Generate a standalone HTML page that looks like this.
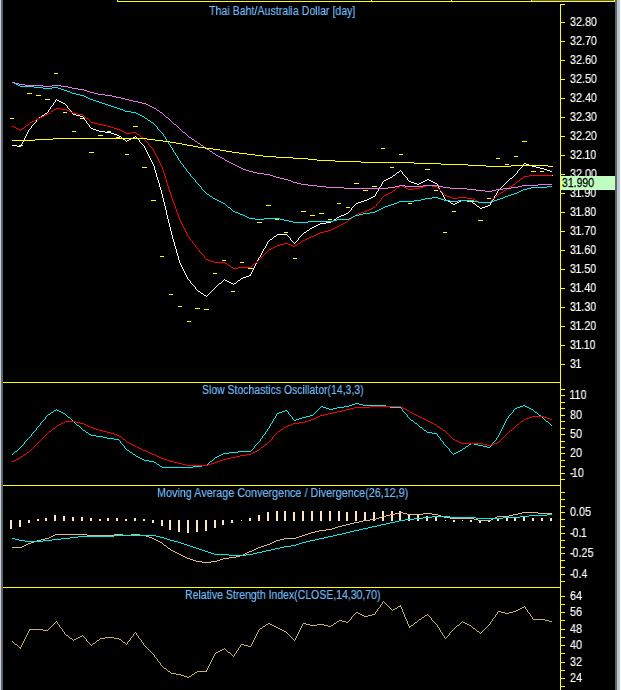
<!DOCTYPE html><html><head><meta charset="utf-8"><title>Chart</title><style>
html,body{margin:0;padding:0;background:#000;}
body{width:621px;height:690px;position:relative;overflow:hidden;font-family:"Liberation Sans",sans-serif;}
.lab{-webkit-text-stroke:0.15px #fff;will-change:transform;position:absolute;left:569.5px;color:#fff;font-size:12px;line-height:14px;height:14px;white-space:nowrap;transform:scaleX(0.9);transform-origin:0 0;}
.lab i{font-style:normal;margin-left:-0.8px}
.lab b{font-weight:normal;margin-right:-1.2px}
.ttl{-webkit-text-stroke:0.2px #6eb9ff;will-change:transform;position:absolute;color:#6eb9ff;font-size:12px;line-height:14px;height:14px;white-space:nowrap;transform:scaleX(0.885);transform-origin:0 0;}
.cur{position:absolute;left:561px;top:176px;width:54px;height:14px;background:#c0ffc0;color:#000;font-size:12px;line-height:14px;white-space:nowrap;}
.cur span{display:inline-block;will-change:transform;-webkit-text-stroke:0.3px #000;transform:scaleX(0.875);transform-origin:0 0;}

</style></head><body>
<svg width="621" height="690" viewBox="0 0 621 690" style="position:absolute;left:0;top:0" shape-rendering="crispEdges">
<rect x="0" y="0" width="1" height="690" fill="#c6d6e8"/>
<rect x="1" y="0" width="2" height="690" fill="#636363"/>
<rect x="615" y="0" width="2" height="690" fill="#636363"/>
<rect x="617" y="0" width="3" height="690" fill="#b9c9dc"/>
<rect x="620" y="0" width="1" height="690" fill="#ffffff"/>
<rect x="532" y="0" width="82" height="1" fill="#56566e"/>
<rect x="117" y="1" width="498" height="1" fill="#ffff00"/>
<rect x="117" y="0" width="1" height="2" fill="#ffff00"/>
<rect x="371" y="0" width="1" height="2" fill="#ffff00"/>
<rect x="451" y="0" width="1" height="2" fill="#ffff00"/>
<rect x="531" y="0" width="1" height="2" fill="#ffff00"/>
<rect x="614" y="0" width="1" height="2" fill="#ffff00"/>
<rect x="560" y="4" width="1" height="686" fill="#ffff00"/>
<rect x="560" y="4" width="5" height="1" fill="#ffff00"/>
<rect x="3" y="382" width="558" height="1" fill="#ffff00"/>
<rect x="3" y="485" width="558" height="1" fill="#ffff00"/>
<rect x="3" y="587" width="558" height="1" fill="#ffff00"/>
<rect x="561" y="22" width="4" height="1" fill="#ffff00"/>
<rect x="561" y="41" width="4" height="1" fill="#ffff00"/>
<rect x="561" y="60" width="4" height="1" fill="#ffff00"/>
<rect x="561" y="79" width="4" height="1" fill="#ffff00"/>
<rect x="561" y="98" width="4" height="1" fill="#ffff00"/>
<rect x="561" y="117" width="4" height="1" fill="#ffff00"/>
<rect x="561" y="136" width="4" height="1" fill="#ffff00"/>
<rect x="561" y="155" width="4" height="1" fill="#ffff00"/>
<rect x="561" y="174" width="4" height="1" fill="#ffff00"/>
<rect x="561" y="193" width="4" height="1" fill="#ffff00"/>
<rect x="561" y="212" width="4" height="1" fill="#ffff00"/>
<rect x="561" y="231" width="4" height="1" fill="#ffff00"/>
<rect x="561" y="250" width="4" height="1" fill="#ffff00"/>
<rect x="561" y="269" width="4" height="1" fill="#ffff00"/>
<rect x="561" y="288" width="4" height="1" fill="#ffff00"/>
<rect x="561" y="307" width="4" height="1" fill="#ffff00"/>
<rect x="561" y="326" width="4" height="1" fill="#ffff00"/>
<rect x="561" y="345" width="4" height="1" fill="#ffff00"/>
<rect x="561" y="364" width="4" height="1" fill="#ffff00"/>
<rect x="561" y="389" width="4" height="1" fill="#ffff00"/>
<rect x="561" y="395" width="4" height="1" fill="#ffff00"/>
<rect x="561" y="402" width="4" height="1" fill="#ffff00"/>
<rect x="561" y="408" width="4" height="1" fill="#ffff00"/>
<rect x="561" y="415" width="4" height="1" fill="#ffff00"/>
<rect x="561" y="421" width="4" height="1" fill="#ffff00"/>
<rect x="561" y="428" width="4" height="1" fill="#ffff00"/>
<rect x="561" y="434" width="4" height="1" fill="#ffff00"/>
<rect x="561" y="441" width="4" height="1" fill="#ffff00"/>
<rect x="561" y="447" width="4" height="1" fill="#ffff00"/>
<rect x="561" y="453" width="4" height="1" fill="#ffff00"/>
<rect x="561" y="460" width="4" height="1" fill="#ffff00"/>
<rect x="561" y="466" width="4" height="1" fill="#ffff00"/>
<rect x="561" y="473" width="4" height="1" fill="#ffff00"/>
<rect x="561" y="479" width="4" height="1" fill="#ffff00"/>
<rect x="561" y="492" width="4" height="1" fill="#ffff00"/>
<rect x="561" y="499" width="4" height="1" fill="#ffff00"/>
<rect x="561" y="506" width="4" height="1" fill="#ffff00"/>
<rect x="561" y="512" width="4" height="1" fill="#ffff00"/>
<rect x="561" y="519" width="4" height="1" fill="#ffff00"/>
<rect x="561" y="526" width="4" height="1" fill="#ffff00"/>
<rect x="561" y="533" width="4" height="1" fill="#ffff00"/>
<rect x="561" y="540" width="4" height="1" fill="#ffff00"/>
<rect x="561" y="547" width="4" height="1" fill="#ffff00"/>
<rect x="561" y="553" width="4" height="1" fill="#ffff00"/>
<rect x="561" y="560" width="4" height="1" fill="#ffff00"/>
<rect x="561" y="567" width="4" height="1" fill="#ffff00"/>
<rect x="561" y="574" width="4" height="1" fill="#ffff00"/>
<rect x="561" y="581" width="4" height="1" fill="#ffff00"/>
<rect x="561" y="596" width="4" height="1" fill="#ffff00"/>
<rect x="561" y="604" width="4" height="1" fill="#ffff00"/>
<rect x="561" y="612" width="4" height="1" fill="#ffff00"/>
<rect x="561" y="620" width="4" height="1" fill="#ffff00"/>
<rect x="561" y="629" width="4" height="1" fill="#ffff00"/>
<rect x="561" y="637" width="4" height="1" fill="#ffff00"/>
<rect x="561" y="645" width="4" height="1" fill="#ffff00"/>
<rect x="561" y="653" width="4" height="1" fill="#ffff00"/>
<rect x="561" y="662" width="4" height="1" fill="#ffff00"/>
<rect x="561" y="670" width="4" height="1" fill="#ffff00"/>
<rect x="561" y="678" width="4" height="1" fill="#ffff00"/>
<rect x="561" y="686" width="4" height="1" fill="#ffff00"/>
<rect x="10" y="118" width="4" height="1" fill="#ffff00"/>
<rect x="19" y="145" width="4" height="1" fill="#ffff00"/>
<rect x="27" y="93" width="5" height="1" fill="#ffff00"/>
<rect x="36" y="95" width="5" height="1" fill="#ffff00"/>
<rect x="45" y="99" width="5" height="1" fill="#ffff00"/>
<rect x="54" y="73" width="4" height="1" fill="#ffff00"/>
<rect x="63" y="112" width="4" height="1" fill="#ffff00"/>
<rect x="72" y="131" width="4" height="1" fill="#ffff00"/>
<rect x="80" y="118" width="5" height="1" fill="#ffff00"/>
<rect x="89" y="152" width="5" height="1" fill="#ffff00"/>
<rect x="98" y="135" width="5" height="1" fill="#ffff00"/>
<rect x="107" y="131" width="4" height="1" fill="#ffff00"/>
<rect x="116" y="137" width="4" height="1" fill="#ffff00"/>
<rect x="125" y="154" width="4" height="1" fill="#ffff00"/>
<rect x="133" y="126" width="5" height="1" fill="#ffff00"/>
<rect x="142" y="167" width="5" height="1" fill="#ffff00"/>
<rect x="151" y="200" width="5" height="1" fill="#ffff00"/>
<rect x="160" y="256" width="4" height="1" fill="#ffff00"/>
<rect x="169" y="294" width="4" height="1" fill="#ffff00"/>
<rect x="178" y="306" width="4" height="1" fill="#ffff00"/>
<rect x="187" y="321" width="4" height="1" fill="#ffff00"/>
<rect x="195" y="308" width="5" height="1" fill="#ffff00"/>
<rect x="204" y="309" width="5" height="1" fill="#ffff00"/>
<rect x="213" y="273" width="4" height="1" fill="#ffff00"/>
<rect x="222" y="260" width="4" height="1" fill="#ffff00"/>
<rect x="231" y="291" width="4" height="1" fill="#ffff00"/>
<rect x="240" y="262" width="4" height="1" fill="#ffff00"/>
<rect x="248" y="268" width="5" height="1" fill="#ffff00"/>
<rect x="257" y="222" width="5" height="1" fill="#ffff00"/>
<rect x="266" y="205" width="5" height="1" fill="#ffff00"/>
<rect x="275" y="219" width="4" height="1" fill="#ffff00"/>
<rect x="284" y="232" width="4" height="1" fill="#ffff00"/>
<rect x="293" y="258" width="4" height="1" fill="#ffff00"/>
<rect x="301" y="211" width="5" height="1" fill="#ffff00"/>
<rect x="310" y="215" width="5" height="1" fill="#ffff00"/>
<rect x="319" y="213" width="5" height="1" fill="#ffff00"/>
<rect x="328" y="219" width="4" height="1" fill="#ffff00"/>
<rect x="337" y="203" width="4" height="1" fill="#ffff00"/>
<rect x="346" y="207" width="4" height="1" fill="#ffff00"/>
<rect x="354" y="183" width="5" height="1" fill="#ffff00"/>
<rect x="363" y="190" width="5" height="1" fill="#ffff00"/>
<rect x="372" y="186" width="5" height="1" fill="#ffff00"/>
<rect x="381" y="148" width="4" height="1" fill="#ffff00"/>
<rect x="390" y="167" width="4" height="1" fill="#ffff00"/>
<rect x="399" y="154" width="4" height="1" fill="#ffff00"/>
<rect x="408" y="203" width="4" height="1" fill="#ffff00"/>
<rect x="416" y="186" width="5" height="1" fill="#ffff00"/>
<rect x="425" y="169" width="5" height="1" fill="#ffff00"/>
<rect x="434" y="190" width="4" height="1" fill="#ffff00"/>
<rect x="443" y="232" width="4" height="1" fill="#ffff00"/>
<rect x="452" y="211" width="4" height="1" fill="#ffff00"/>
<rect x="461" y="200" width="4" height="1" fill="#ffff00"/>
<rect x="469" y="201" width="5" height="1" fill="#ffff00"/>
<rect x="478" y="220" width="5" height="1" fill="#ffff00"/>
<rect x="487" y="198" width="4" height="1" fill="#ffff00"/>
<rect x="496" y="158" width="4" height="1" fill="#ffff00"/>
<rect x="505" y="164" width="4" height="1" fill="#ffff00"/>
<rect x="514" y="156" width="4" height="1" fill="#ffff00"/>
<rect x="522" y="141" width="5" height="1" fill="#ffff00"/>
<rect x="531" y="171" width="5" height="1" fill="#ffff00"/>
<rect x="540" y="171" width="4" height="1" fill="#ffff00"/>
<rect x="549" y="175" width="4" height="1" fill="#ffff00"/>
<path fill="#ffffff" d="M56 99h1v1h-1zM55 100h1v1h-1zM57 100h2v1h-2zM55 101h1v1h-1zM59 101h2v1h-2zM54 102h1v1h-1zM61 102h2v1h-2zM53 103h1v1h-1zM63 103h2v1h-2zM53 104h1v1h-1zM65 104h1v1h-1zM52 105h1v1h-1zM66 105h1v1h-1zM51 106h1v1h-1zM67 106h1v1h-1zM50 107h1v1h-1zM67 107h1v1h-1zM50 108h1v1h-1zM68 108h1v1h-1zM49 109h1v1h-1zM69 109h1v1h-1zM48 110h1v1h-1zM70 110h1v1h-1zM48 111h1v1h-1zM71 111h1v1h-1zM47 112h1v1h-1zM71 112h1v1h-1zM45 113h2v1h-2zM72 113h1v1h-1zM44 114h1v1h-1zM73 114h3v1h-3zM42 115h2v1h-2zM76 115h4v1h-4zM41 116h1v1h-1zM80 116h3v1h-3zM39 117h2v1h-2zM83 117h1v1h-1zM38 118h1v1h-1zM83 118h1v1h-1zM37 119h1v1h-1zM84 119h1v1h-1zM36 120h1v1h-1zM85 120h1v1h-1zM36 121h1v1h-1zM86 121h1v1h-1zM35 122h1v1h-1zM86 122h1v1h-1zM34 123h1v1h-1zM87 123h1v1h-1zM33 124h1v1h-1zM88 124h1v1h-1zM32 125h1v1h-1zM89 125h1v1h-1zM31 126h1v1h-1zM89 126h1v1h-1zM31 127h1v1h-1zM90 127h1v1h-1zM30 128h1v1h-1zM91 128h2v1h-2zM29 129h1v1h-1zM93 129h3v1h-3zM28 130h1v1h-1zM96 130h3v1h-3zM28 131h1v1h-1zM99 131h6v1h-6zM27 132h1v1h-1zM105 132h6v1h-6zM27 133h1v1h-1zM111 133h3v1h-3zM26 134h1v1h-1zM114 134h3v1h-3zM26 135h1v1h-1zM117 135h2v1h-2zM25 136h1v1h-1zM119 136h2v1h-2zM135 136h1v1h-1zM25 137h1v1h-1zM121 137h1v1h-1zM133 137h2v1h-2zM136 137h1v1h-1zM24 138h1v1h-1zM122 138h1v1h-1zM131 138h2v1h-2zM137 138h1v1h-1zM24 139h1v1h-1zM123 139h2v1h-2zM129 139h2v1h-2zM138 139h1v1h-1zM23 140h1v1h-1zM125 140h1v1h-1zM127 140h2v1h-2zM139 140h1v1h-1zM23 141h1v1h-1zM126 141h1v1h-1zM139 141h1v1h-1zM22 142h1v1h-1zM140 142h1v1h-1zM22 143h1v1h-1zM141 143h1v1h-1zM21 144h1v1h-1zM142 144h1v1h-1zM12 145h5v1h-5zM21 145h1v1h-1zM143 145h1v1h-1zM17 146h4v1h-4zM144 146h1v1h-1zM144 147h1v1h-1zM145 148h1v1h-1zM145 149h1v1h-1zM146 150h1v1h-1zM146 151h1v1h-1zM147 152h1v1h-1zM147 153h1v1h-1zM148 154h1v1h-1zM148 155h1v1h-1zM149 156h1v1h-1zM149 157h1v1h-1zM150 158h1v1h-1zM150 159h1v1h-1zM151 160h1v1h-1zM151 161h1v1h-1zM152 162h1v1h-1zM152 163h1v1h-1zM524 163h2v1h-2zM153 164h1v1h-1zM523 164h1v1h-1zM526 164h3v1h-3zM153 165h1v1h-1zM522 165h1v1h-1zM529 165h3v1h-3zM154 166h1v1h-1zM522 166h1v1h-1zM532 166h4v1h-4zM154 167h1v1h-1zM521 167h1v1h-1zM536 167h4v1h-4zM154 168h1v1h-1zM520 168h1v1h-1zM540 168h4v1h-4zM154 169h1v1h-1zM519 169h1v1h-1zM544 169h3v1h-3zM155 170h1v1h-1zM400 170h1v1h-1zM518 170h1v1h-1zM547 170h3v1h-3zM155 171h1v1h-1zM399 171h1v1h-1zM401 171h1v1h-1zM517 171h1v1h-1zM550 171h2v1h-2zM155 172h1v1h-1zM397 172h2v1h-2zM402 172h1v1h-1zM517 172h1v1h-1zM156 173h1v1h-1zM396 173h1v1h-1zM402 173h1v1h-1zM516 173h1v1h-1zM156 174h1v1h-1zM395 174h1v1h-1zM403 174h1v1h-1zM515 174h1v1h-1zM156 175h1v1h-1zM393 175h2v1h-2zM404 175h1v1h-1zM514 175h1v1h-1zM156 176h1v1h-1zM392 176h1v1h-1zM405 176h1v1h-1zM513 176h1v1h-1zM157 177h1v1h-1zM390 177h2v1h-2zM406 177h1v1h-1zM512 177h1v1h-1zM157 178h1v1h-1zM388 178h2v1h-2zM407 178h1v1h-1zM510 178h2v1h-2zM157 179h1v1h-1zM386 179h2v1h-2zM407 179h1v1h-1zM427 179h2v1h-2zM509 179h1v1h-1zM158 180h1v1h-1zM384 180h2v1h-2zM408 180h1v1h-1zM425 180h2v1h-2zM429 180h2v1h-2zM508 180h1v1h-1zM158 181h1v1h-1zM383 181h1v1h-1zM409 181h2v1h-2zM423 181h2v1h-2zM431 181h2v1h-2zM507 181h1v1h-1zM158 182h1v1h-1zM382 182h1v1h-1zM411 182h3v1h-3zM421 182h2v1h-2zM433 182h2v1h-2zM506 182h1v1h-1zM159 183h1v1h-1zM382 183h1v1h-1zM414 183h3v1h-3zM419 183h2v1h-2zM435 183h2v1h-2zM505 183h1v1h-1zM159 184h1v1h-1zM381 184h1v1h-1zM417 184h2v1h-2zM437 184h1v1h-1zM504 184h1v1h-1zM159 185h1v1h-1zM381 185h1v1h-1zM437 185h1v1h-1zM503 185h1v1h-1zM159 186h1v1h-1zM380 186h1v1h-1zM438 186h1v1h-1zM502 186h1v1h-1zM160 187h1v1h-1zM379 187h1v1h-1zM438 187h1v1h-1zM501 187h1v1h-1zM160 188h1v1h-1zM379 188h1v1h-1zM439 188h1v1h-1zM500 188h1v1h-1zM160 189h1v1h-1zM378 189h1v1h-1zM439 189h1v1h-1zM499 189h1v1h-1zM161 190h1v1h-1zM378 190h1v1h-1zM440 190h1v1h-1zM498 190h1v1h-1zM161 191h1v1h-1zM377 191h1v1h-1zM440 191h1v1h-1zM497 191h1v1h-1zM161 192h1v1h-1zM376 192h1v1h-1zM441 192h1v1h-1zM497 192h1v1h-1zM161 193h1v1h-1zM376 193h1v1h-1zM442 193h1v1h-1zM496 193h1v1h-1zM162 194h1v1h-1zM375 194h1v1h-1zM442 194h1v1h-1zM496 194h1v1h-1zM162 195h1v1h-1zM375 195h1v1h-1zM443 195h1v1h-1zM495 195h1v1h-1zM162 196h1v1h-1zM373 196h2v1h-2zM443 196h1v1h-1zM494 196h1v1h-1zM162 197h1v1h-1zM371 197h2v1h-2zM444 197h1v1h-1zM494 197h1v1h-1zM163 198h1v1h-1zM369 198h2v1h-2zM444 198h1v1h-1zM493 198h1v1h-1zM163 199h1v1h-1zM367 199h2v1h-2zM445 199h1v1h-1zM493 199h1v1h-1zM163 200h1v1h-1zM364 200h3v1h-3zM446 200h2v1h-2zM461 200h6v1h-6zM492 200h1v1h-1zM163 201h1v1h-1zM361 201h3v1h-3zM448 201h2v1h-2zM459 201h2v1h-2zM467 201h5v1h-5zM491 201h1v1h-1zM164 202h1v1h-1zM358 202h3v1h-3zM450 202h1v1h-1zM457 202h2v1h-2zM472 202h1v1h-1zM491 202h1v1h-1zM164 203h1v1h-1zM356 203h2v1h-2zM451 203h2v1h-2zM455 203h2v1h-2zM473 203h2v1h-2zM490 203h1v1h-1zM164 204h1v1h-1zM355 204h1v1h-1zM453 204h2v1h-2zM475 204h1v1h-1zM490 204h1v1h-1zM164 205h1v1h-1zM354 205h1v1h-1zM476 205h1v1h-1zM488 205h2v1h-2zM165 206h1v1h-1zM353 206h1v1h-1zM477 206h2v1h-2zM485 206h3v1h-3zM165 207h1v1h-1zM352 207h1v1h-1zM479 207h1v1h-1zM482 207h3v1h-3zM165 208h1v1h-1zM351 208h1v1h-1zM480 208h2v1h-2zM165 209h1v1h-1zM351 209h1v1h-1zM166 210h1v1h-1zM350 210h1v1h-1zM166 211h1v1h-1zM349 211h1v1h-1zM166 212h1v1h-1zM348 212h1v1h-1zM166 213h1v1h-1zM346 213h2v1h-2zM166 214h1v1h-1zM344 214h2v1h-2zM167 215h1v1h-1zM341 215h3v1h-3zM167 216h1v1h-1zM339 216h2v1h-2zM167 217h1v1h-1zM337 217h2v1h-2zM167 218h1v1h-1zM336 218h1v1h-1zM168 219h1v1h-1zM334 219h2v1h-2zM168 220h1v1h-1zM333 220h1v1h-1zM168 221h1v1h-1zM331 221h2v1h-2zM168 222h1v1h-1zM326 222h5v1h-5zM169 223h1v1h-1zM320 223h6v1h-6zM169 224h1v1h-1zM318 224h2v1h-2zM169 225h1v1h-1zM316 225h2v1h-2zM169 226h1v1h-1zM314 226h2v1h-2zM170 227h1v1h-1zM312 227h2v1h-2zM170 228h1v1h-1zM310 228h2v1h-2zM170 229h1v1h-1zM309 229h1v1h-1zM170 230h1v1h-1zM307 230h2v1h-2zM171 231h1v1h-1zM306 231h1v1h-1zM171 232h1v1h-1zM304 232h2v1h-2zM171 233h1v1h-1zM303 233h1v1h-1zM171 234h1v1h-1zM277 234h10v1h-10zM302 234h1v1h-1zM172 235h1v1h-1zM276 235h1v1h-1zM287 235h1v1h-1zM301 235h1v1h-1zM172 236h1v1h-1zM274 236h2v1h-2zM288 236h1v1h-1zM300 236h1v1h-1zM172 237h1v1h-1zM273 237h1v1h-1zM289 237h1v1h-1zM299 237h1v1h-1zM172 238h1v1h-1zM272 238h1v1h-1zM290 238h1v1h-1zM298 238h1v1h-1zM173 239h1v1h-1zM270 239h2v1h-2zM290 239h1v1h-1zM298 239h1v1h-1zM173 240h1v1h-1zM269 240h1v1h-1zM291 240h1v1h-1zM297 240h1v1h-1zM173 241h1v1h-1zM268 241h1v1h-1zM292 241h1v1h-1zM296 241h1v1h-1zM174 242h1v1h-1zM267 242h1v1h-1zM293 242h1v1h-1zM295 242h1v1h-1zM174 243h1v1h-1zM267 243h1v1h-1zM294 243h1v1h-1zM174 244h1v1h-1zM266 244h1v1h-1zM174 245h1v1h-1zM266 245h1v1h-1zM175 246h1v1h-1zM265 246h1v1h-1zM175 247h1v1h-1zM265 247h1v1h-1zM175 248h1v1h-1zM264 248h1v1h-1zM176 249h1v1h-1zM263 249h1v1h-1zM176 250h1v1h-1zM263 250h1v1h-1zM176 251h1v1h-1zM262 251h1v1h-1zM176 252h1v1h-1zM262 252h1v1h-1zM177 253h1v1h-1zM261 253h1v1h-1zM177 254h1v1h-1zM261 254h1v1h-1zM177 255h1v1h-1zM260 255h1v1h-1zM178 256h1v1h-1zM260 256h1v1h-1zM178 257h1v1h-1zM259 257h1v1h-1zM178 258h1v1h-1zM258 258h1v1h-1zM178 259h1v1h-1zM258 259h1v1h-1zM179 260h1v1h-1zM257 260h1v1h-1zM179 261h1v1h-1zM257 261h1v1h-1zM179 262h1v1h-1zM256 262h1v1h-1zM180 263h1v1h-1zM256 263h1v1h-1zM180 264h1v1h-1zM255 264h1v1h-1zM181 265h1v1h-1zM255 265h1v1h-1zM181 266h1v1h-1zM254 266h1v1h-1zM182 267h1v1h-1zM254 267h1v1h-1zM182 268h1v1h-1zM253 268h1v1h-1zM183 269h1v1h-1zM253 269h1v1h-1zM183 270h1v1h-1zM252 270h1v1h-1zM184 271h1v1h-1zM252 271h1v1h-1zM184 272h1v1h-1zM251 272h1v1h-1zM185 273h1v1h-1zM251 273h1v1h-1zM185 274h1v1h-1zM250 274h1v1h-1zM186 275h1v1h-1zM249 275h2v1h-2zM186 276h1v1h-1zM246 276h3v1h-3zM187 277h1v1h-1zM243 277h3v1h-3zM187 278h1v1h-1zM241 278h2v1h-2zM188 279h1v1h-1zM224 279h1v1h-1zM240 279h1v1h-1zM189 280h1v1h-1zM223 280h1v1h-1zM225 280h2v1h-2zM238 280h2v1h-2zM190 281h1v1h-1zM222 281h1v1h-1zM227 281h2v1h-2zM237 281h1v1h-1zM190 282h1v1h-1zM221 282h1v1h-1zM229 282h2v1h-2zM236 282h1v1h-1zM191 283h1v1h-1zM219 283h2v1h-2zM231 283h2v1h-2zM234 283h2v1h-2zM192 284h1v1h-1zM218 284h1v1h-1zM233 284h1v1h-1zM193 285h1v1h-1zM217 285h1v1h-1zM194 286h1v1h-1zM216 286h1v1h-1zM195 287h1v1h-1zM215 287h1v1h-1zM195 288h1v1h-1zM214 288h1v1h-1zM196 289h1v1h-1zM213 289h1v1h-1zM197 290h1v1h-1zM212 290h1v1h-1zM198 291h2v1h-2zM211 291h1v1h-1zM200 292h1v1h-1zM210 292h1v1h-1zM201 293h2v1h-2zM209 293h1v1h-1zM203 294h1v1h-1zM208 294h1v1h-1zM204 295h2v1h-2zM207 295h1v1h-1zM206 296h1v1h-1z"/>
<path fill="#ff0000" d="M56 108h5v1h-5zM54 109h2v1h-2zM61 109h6v1h-6zM53 110h1v1h-1zM67 110h2v1h-2zM51 111h2v1h-2zM69 111h2v1h-2zM50 112h1v1h-1zM71 112h2v1h-2zM48 113h2v1h-2zM73 113h5v1h-5zM46 114h2v1h-2zM78 114h5v1h-5zM44 115h2v1h-2zM83 115h1v1h-1zM42 116h2v1h-2zM84 116h1v1h-1zM40 117h2v1h-2zM85 117h1v1h-1zM38 118h2v1h-2zM86 118h2v1h-2zM36 119h2v1h-2zM88 119h1v1h-1zM34 120h2v1h-2zM89 120h1v1h-1zM32 121h2v1h-2zM90 121h1v1h-1zM30 122h2v1h-2zM91 122h3v1h-3zM29 123h1v1h-1zM94 123h4v1h-4zM28 124h1v1h-1zM98 124h5v1h-5zM26 125h2v1h-2zM103 125h4v1h-4zM12 126h2v1h-2zM25 126h1v1h-1zM107 126h4v1h-4zM14 127h2v1h-2zM24 127h1v1h-1zM111 127h3v1h-3zM16 128h2v1h-2zM22 128h2v1h-2zM114 128h3v1h-3zM18 129h2v1h-2zM21 129h1v1h-1zM117 129h3v1h-3zM20 130h1v1h-1zM120 130h2v1h-2zM122 131h2v1h-2zM124 132h2v1h-2zM131 132h5v1h-5zM126 133h5v1h-5zM136 133h1v1h-1zM137 134h2v1h-2zM139 135h1v1h-1zM140 136h1v1h-1zM141 137h2v1h-2zM143 138h1v1h-1zM144 139h1v1h-1zM145 140h1v1h-1zM146 141h1v1h-1zM147 142h1v1h-1zM148 143h1v1h-1zM148 144h1v1h-1zM149 145h1v1h-1zM150 146h1v1h-1zM151 147h1v1h-1zM152 148h1v1h-1zM153 149h1v1h-1zM153 150h1v1h-1zM154 151h1v1h-1zM154 152h1v1h-1zM155 153h1v1h-1zM155 154h1v1h-1zM156 155h1v1h-1zM156 156h1v1h-1zM157 157h1v1h-1zM157 158h1v1h-1zM158 159h1v1h-1zM158 160h1v1h-1zM159 161h1v1h-1zM159 162h1v1h-1zM160 163h1v1h-1zM160 164h1v1h-1zM161 165h1v1h-1zM161 166h1v1h-1zM162 167h1v1h-1zM162 168h1v1h-1zM162 169h1v1h-1zM163 170h1v1h-1zM163 171h1v1h-1zM163 172h1v1h-1zM164 173h1v1h-1zM164 174h1v1h-1zM164 175h1v1h-1zM529 175h23v1h-23zM165 176h1v1h-1zM524 176h5v1h-5zM165 177h1v1h-1zM523 177h1v1h-1zM165 178h1v1h-1zM521 178h2v1h-2zM166 179h1v1h-1zM520 179h1v1h-1zM166 180h1v1h-1zM519 180h1v1h-1zM166 181h1v1h-1zM517 181h2v1h-2zM166 182h1v1h-1zM516 182h1v1h-1zM167 183h1v1h-1zM515 183h1v1h-1zM167 184h1v1h-1zM513 184h2v1h-2zM167 185h1v1h-1zM400 185h2v1h-2zM426 185h6v1h-6zM512 185h1v1h-1zM168 186h1v1h-1zM399 186h1v1h-1zM402 186h2v1h-2zM423 186h3v1h-3zM432 186h5v1h-5zM510 186h2v1h-2zM168 187h1v1h-1zM397 187h2v1h-2zM404 187h2v1h-2zM420 187h3v1h-3zM437 187h1v1h-1zM509 187h1v1h-1zM168 188h1v1h-1zM396 188h1v1h-1zM406 188h2v1h-2zM414 188h6v1h-6zM438 188h1v1h-1zM507 188h2v1h-2zM169 189h1v1h-1zM395 189h1v1h-1zM408 189h6v1h-6zM439 189h1v1h-1zM506 189h1v1h-1zM169 190h1v1h-1zM393 190h2v1h-2zM440 190h1v1h-1zM504 190h2v1h-2zM169 191h1v1h-1zM392 191h1v1h-1zM441 191h1v1h-1zM503 191h1v1h-1zM170 192h1v1h-1zM390 192h2v1h-2zM442 192h1v1h-1zM501 192h2v1h-2zM170 193h1v1h-1zM388 193h2v1h-2zM443 193h1v1h-1zM499 193h2v1h-2zM170 194h1v1h-1zM386 194h2v1h-2zM444 194h1v1h-1zM498 194h1v1h-1zM171 195h1v1h-1zM384 195h2v1h-2zM445 195h2v1h-2zM497 195h1v1h-1zM171 196h1v1h-1zM383 196h1v1h-1zM447 196h3v1h-3zM496 196h1v1h-1zM171 197h1v1h-1zM382 197h1v1h-1zM450 197h2v1h-2zM458 197h9v1h-9zM495 197h1v1h-1zM172 198h1v1h-1zM381 198h1v1h-1zM452 198h6v1h-6zM467 198h6v1h-6zM493 198h2v1h-2zM172 199h1v1h-1zM381 199h1v1h-1zM473 199h2v1h-2zM492 199h1v1h-1zM172 200h1v1h-1zM380 200h1v1h-1zM475 200h2v1h-2zM491 200h1v1h-1zM173 201h1v1h-1zM379 201h1v1h-1zM477 201h2v1h-2zM490 201h1v1h-1zM173 202h1v1h-1zM378 202h1v1h-1zM479 202h11v1h-11zM174 203h1v1h-1zM377 203h1v1h-1zM174 204h1v1h-1zM376 204h1v1h-1zM174 205h1v1h-1zM376 205h1v1h-1zM175 206h1v1h-1zM375 206h1v1h-1zM175 207h1v1h-1zM373 207h2v1h-2zM175 208h1v1h-1zM371 208h2v1h-2zM176 209h1v1h-1zM369 209h2v1h-2zM176 210h1v1h-1zM367 210h2v1h-2zM176 211h1v1h-1zM364 211h3v1h-3zM177 212h1v1h-1zM361 212h3v1h-3zM177 213h1v1h-1zM358 213h3v1h-3zM178 214h1v1h-1zM356 214h2v1h-2zM178 215h1v1h-1zM355 215h1v1h-1zM178 216h1v1h-1zM353 216h2v1h-2zM179 217h1v1h-1zM352 217h1v1h-1zM179 218h1v1h-1zM351 218h1v1h-1zM179 219h1v1h-1zM349 219h2v1h-2zM180 220h1v1h-1zM348 220h1v1h-1zM180 221h1v1h-1zM347 221h1v1h-1zM181 222h1v1h-1zM345 222h2v1h-2zM181 223h1v1h-1zM343 223h2v1h-2zM182 224h1v1h-1zM341 224h2v1h-2zM182 225h1v1h-1zM339 225h2v1h-2zM183 226h1v1h-1zM337 226h2v1h-2zM183 227h1v1h-1zM335 227h2v1h-2zM184 228h1v1h-1zM333 228h2v1h-2zM184 229h1v1h-1zM331 229h2v1h-2zM185 230h1v1h-1zM328 230h3v1h-3zM185 231h1v1h-1zM324 231h4v1h-4zM186 232h1v1h-1zM320 232h4v1h-4zM186 233h1v1h-1zM318 233h2v1h-2zM187 234h1v1h-1zM316 234h2v1h-2zM187 235h1v1h-1zM314 235h2v1h-2zM188 236h1v1h-1zM311 236h3v1h-3zM189 237h1v1h-1zM309 237h2v1h-2zM189 238h1v1h-1zM307 238h2v1h-2zM190 239h1v1h-1zM305 239h2v1h-2zM191 240h1v1h-1zM303 240h2v1h-2zM192 241h1v1h-1zM301 241h2v1h-2zM192 242h1v1h-1zM300 242h1v1h-1zM193 243h1v1h-1zM284 243h4v1h-4zM298 243h2v1h-2zM194 244h1v1h-1zM280 244h4v1h-4zM288 244h3v1h-3zM297 244h1v1h-1zM195 245h1v1h-1zM277 245h3v1h-3zM291 245h2v1h-2zM295 245h2v1h-2zM195 246h1v1h-1zM275 246h2v1h-2zM293 246h2v1h-2zM196 247h1v1h-1zM273 247h2v1h-2zM197 248h1v1h-1zM271 248h2v1h-2zM198 249h1v1h-1zM269 249h2v1h-2zM199 250h1v1h-1zM268 250h1v1h-1zM199 251h1v1h-1zM267 251h1v1h-1zM200 252h1v1h-1zM266 252h1v1h-1zM201 253h1v1h-1zM265 253h1v1h-1zM202 254h1v1h-1zM264 254h1v1h-1zM203 255h1v1h-1zM263 255h1v1h-1zM204 256h1v1h-1zM262 256h1v1h-1zM204 257h1v1h-1zM261 257h1v1h-1zM205 258h1v1h-1zM260 258h1v1h-1zM206 259h2v1h-2zM259 259h1v1h-1zM208 260h3v1h-3zM258 260h1v1h-1zM211 261h3v1h-3zM257 261h1v1h-1zM214 262h11v1h-11zM256 262h1v1h-1zM225 263h2v1h-2zM254 263h2v1h-2zM227 264h1v1h-1zM253 264h1v1h-1zM228 265h2v1h-2zM252 265h1v1h-1zM230 266h1v1h-1zM251 266h1v1h-1zM231 267h2v1h-2zM238 267h13v1h-13zM233 268h5v1h-5z"/>
<path fill="#00eeee" d="M12 82h2v1h-2zM14 83h2v1h-2zM16 84h2v1h-2zM18 85h2v1h-2zM20 86h14v1h-14zM34 87h9v1h-9zM52 87h6v1h-6zM43 88h9v1h-9zM58 88h3v1h-3zM61 89h3v1h-3zM64 90h3v1h-3zM67 91h3v1h-3zM70 92h2v1h-2zM72 93h4v1h-4zM76 94h4v1h-4zM80 95h4v1h-4zM84 96h2v1h-2zM86 97h2v1h-2zM88 98h2v1h-2zM90 99h3v1h-3zM93 100h3v1h-3zM96 101h3v1h-3zM99 102h3v1h-3zM102 103h3v1h-3zM105 104h3v1h-3zM108 105h3v1h-3zM111 106h3v1h-3zM114 107h3v1h-3zM117 108h3v1h-3zM120 109h3v1h-3zM123 110h2v1h-2zM125 111h6v1h-6zM131 112h5v1h-5zM136 113h2v1h-2zM138 114h2v1h-2zM140 115h2v1h-2zM142 116h2v1h-2zM144 117h1v1h-1zM145 118h2v1h-2zM147 119h1v1h-1zM148 120h2v1h-2zM150 121h1v1h-1zM151 122h2v1h-2zM153 123h1v1h-1zM154 124h1v1h-1zM155 125h1v1h-1zM156 126h1v1h-1zM157 127h1v1h-1zM157 128h1v1h-1zM158 129h1v1h-1zM159 130h1v1h-1zM160 131h1v1h-1zM161 132h1v1h-1zM162 133h1v1h-1zM163 134h1v1h-1zM163 135h1v1h-1zM164 136h1v1h-1zM165 137h1v1h-1zM165 138h1v1h-1zM166 139h1v1h-1zM166 140h1v1h-1zM167 141h1v1h-1zM168 142h1v1h-1zM168 143h1v1h-1zM169 144h1v1h-1zM170 145h1v1h-1zM170 146h1v1h-1zM171 147h1v1h-1zM172 148h1v1h-1zM172 149h1v1h-1zM173 150h1v1h-1zM173 151h1v1h-1zM174 152h1v1h-1zM175 153h1v1h-1zM175 154h1v1h-1zM176 155h1v1h-1zM177 156h1v1h-1zM177 157h1v1h-1zM178 158h1v1h-1zM178 159h1v1h-1zM179 160h1v1h-1zM180 161h1v1h-1zM180 162h1v1h-1zM181 163h1v1h-1zM182 164h1v1h-1zM183 165h1v1h-1zM183 166h1v1h-1zM184 167h1v1h-1zM185 168h1v1h-1zM186 169h1v1h-1zM186 170h1v1h-1zM187 171h1v1h-1zM188 172h1v1h-1zM189 173h1v1h-1zM190 174h1v1h-1zM190 175h1v1h-1zM191 176h1v1h-1zM192 177h1v1h-1zM193 178h1v1h-1zM194 179h1v1h-1zM195 180h1v1h-1zM195 181h1v1h-1zM196 182h1v1h-1zM197 183h1v1h-1zM198 184h1v1h-1zM199 185h1v1h-1zM200 186h1v1h-1zM547 186h5v1h-5zM201 187h1v1h-1zM531 187h16v1h-16zM201 188h1v1h-1zM527 188h4v1h-4zM202 189h1v1h-1zM523 189h4v1h-4zM203 190h1v1h-1zM521 190h2v1h-2zM204 191h1v1h-1zM519 191h2v1h-2zM205 192h1v1h-1zM517 192h2v1h-2zM206 193h1v1h-1zM514 193h3v1h-3zM207 194h2v1h-2zM511 194h3v1h-3zM209 195h1v1h-1zM508 195h3v1h-3zM210 196h2v1h-2zM505 196h3v1h-3zM212 197h1v1h-1zM432 197h6v1h-6zM503 197h2v1h-2zM213 198h2v1h-2zM425 198h7v1h-7zM438 198h3v1h-3zM500 198h3v1h-3zM215 199h2v1h-2zM421 199h4v1h-4zM441 199h3v1h-3zM497 199h3v1h-3zM217 200h2v1h-2zM414 200h7v1h-7zM444 200h6v1h-6zM458 200h16v1h-16zM494 200h3v1h-3zM219 201h2v1h-2zM399 201h15v1h-15zM450 201h8v1h-8zM474 201h4v1h-4zM491 201h3v1h-3zM221 202h2v1h-2zM397 202h2v1h-2zM478 202h13v1h-13zM223 203h2v1h-2zM394 203h3v1h-3zM225 204h1v1h-1zM391 204h3v1h-3zM226 205h1v1h-1zM388 205h3v1h-3zM227 206h1v1h-1zM385 206h3v1h-3zM228 207h2v1h-2zM383 207h2v1h-2zM230 208h1v1h-1zM381 208h2v1h-2zM231 209h1v1h-1zM379 209h2v1h-2zM232 210h1v1h-1zM377 210h2v1h-2zM233 211h2v1h-2zM375 211h2v1h-2zM235 212h3v1h-3zM370 212h5v1h-5zM238 213h2v1h-2zM363 213h7v1h-7zM240 214h3v1h-3zM359 214h4v1h-4zM243 215h2v1h-2zM355 215h4v1h-4zM245 216h2v1h-2zM353 216h2v1h-2zM247 217h2v1h-2zM351 217h2v1h-2zM249 218h6v1h-6zM264 218h16v1h-16zM349 218h2v1h-2zM255 219h9v1h-9zM280 219h4v1h-4zM337 219h12v1h-12zM284 220h5v1h-5zM333 220h4v1h-4zM289 221h4v1h-4zM308 221h25v1h-25zM293 222h15v1h-15z"/>
<path fill="#e878e8" d="M12 82h3v1h-3zM15 83h4v1h-4zM19 84h6v1h-6zM25 85h18v1h-18zM52 85h9v1h-9zM43 86h9v1h-9zM61 86h7v1h-7zM68 87h4v1h-4zM72 88h6v1h-6zM78 89h6v1h-6zM84 90h3v1h-3zM87 91h3v1h-3zM90 92h4v1h-4zM94 93h4v1h-4zM98 94h7v1h-7zM105 95h7v1h-7zM112 96h4v1h-4zM116 97h5v1h-5zM121 98h4v1h-4zM125 99h4v1h-4zM129 100h4v1h-4zM133 101h5v1h-5zM138 102h4v1h-4zM142 103h4v1h-4zM146 104h2v1h-2zM148 105h2v1h-2zM150 106h2v1h-2zM152 107h2v1h-2zM154 108h2v1h-2zM156 109h1v1h-1zM157 110h2v1h-2zM159 111h1v1h-1zM160 112h2v1h-2zM162 113h1v1h-1zM163 114h1v1h-1zM164 115h1v1h-1zM165 116h1v1h-1zM166 117h2v1h-2zM168 118h1v1h-1zM169 119h1v1h-1zM170 120h1v1h-1zM171 121h1v1h-1zM172 122h1v1h-1zM173 123h1v1h-1zM174 124h2v1h-2zM176 125h1v1h-1zM177 126h1v1h-1zM178 127h1v1h-1zM179 128h1v1h-1zM180 129h1v1h-1zM181 130h1v1h-1zM182 131h1v1h-1zM183 132h2v1h-2zM185 133h1v1h-1zM186 134h1v1h-1zM187 135h1v1h-1zM188 136h1v1h-1zM189 137h2v1h-2zM191 138h1v1h-1zM192 139h2v1h-2zM194 140h1v1h-1zM195 141h2v1h-2zM197 142h1v1h-1zM198 143h2v1h-2zM200 144h1v1h-1zM201 145h2v1h-2zM203 146h1v1h-1zM204 147h2v1h-2zM206 148h1v1h-1zM207 149h2v1h-2zM209 150h1v1h-1zM210 151h2v1h-2zM212 152h1v1h-1zM213 153h2v1h-2zM215 154h1v1h-1zM216 155h2v1h-2zM218 156h2v1h-2zM220 157h2v1h-2zM222 158h2v1h-2zM224 159h1v1h-1zM225 160h2v1h-2zM227 161h2v1h-2zM229 162h2v1h-2zM231 163h2v1h-2zM233 164h2v1h-2zM235 165h2v1h-2zM237 166h2v1h-2zM239 167h2v1h-2zM241 168h2v1h-2zM243 169h3v1h-3zM246 170h3v1h-3zM249 171h4v1h-4zM253 172h4v1h-4zM257 173h7v1h-7zM264 174h6v1h-6zM270 175h3v1h-3zM273 176h3v1h-3zM276 177h4v1h-4zM280 178h4v1h-4zM284 179h4v1h-4zM288 180h3v1h-3zM291 181h2v1h-2zM293 182h4v1h-4zM297 183h4v1h-4zM301 184h7v1h-7zM538 184h14v1h-14zM308 185h9v1h-9zM399 185h6v1h-6zM423 185h16v1h-16zM522 185h16v1h-16zM317 186h9v1h-9zM395 186h4v1h-4zM405 186h18v1h-18zM439 186h4v1h-4zM518 186h4v1h-4zM326 187h18v1h-18zM388 187h7v1h-7zM443 187h7v1h-7zM511 187h7v1h-7zM344 188h44v1h-44zM450 188h17v1h-17zM503 188h8v1h-8zM467 189h9v1h-9zM496 189h7v1h-7zM476 190h9v1h-9zM492 190h4v1h-4zM485 191h7v1h-7z"/>
<path fill="#ffff00" d="M53 138h94v1h-94zM35 139h18v1h-18zM147 139h8v1h-8zM12 140h23v1h-23zM155 140h8v1h-8zM163 141h7v1h-7zM170 142h6v1h-6zM176 143h6v1h-6zM182 144h5v1h-5zM187 145h6v1h-6zM193 146h5v1h-5zM198 147h7v1h-7zM205 148h8v1h-8zM213 149h7v1h-7zM220 150h6v1h-6zM226 151h6v1h-6zM232 152h7v1h-7zM239 153h8v1h-8zM247 154h8v1h-8zM255 155h8v1h-8zM263 156h13v1h-13zM276 157h17v1h-17zM293 158h15v1h-15zM308 159h9v1h-9zM317 160h18v1h-18zM335 161h26v1h-26zM361 162h53v1h-53zM414 163h27v1h-27zM441 164h27v1h-27zM468 165h18v1h-18zM511 165h37v1h-37zM486 166h25v1h-25zM548 166h5v1h-5z"/>
<path fill="#00eeee" d="M355 403h4v1h-4zM352 404h3v1h-3zM359 404h4v1h-4zM349 405h3v1h-3zM363 405h23v1h-23zM523 405h2v1h-2zM321 406h2v1h-2zM344 406h5v1h-5zM386 406h4v1h-4zM520 406h3v1h-3zM525 406h2v1h-2zM320 407h1v1h-1zM323 407h3v1h-3zM337 407h7v1h-7zM390 407h11v1h-11zM517 407h3v1h-3zM527 407h2v1h-2zM319 408h1v1h-1zM326 408h3v1h-3zM333 408h4v1h-4zM401 408h1v1h-1zM515 408h2v1h-2zM529 408h2v1h-2zM56 409h1v1h-1zM318 409h1v1h-1zM329 409h4v1h-4zM402 409h1v1h-1zM514 409h1v1h-1zM531 409h2v1h-2zM54 410h2v1h-2zM57 410h2v1h-2zM285 410h2v1h-2zM317 410h1v1h-1zM402 410h1v1h-1zM513 410h1v1h-1zM533 410h1v1h-1zM53 411h1v1h-1zM59 411h2v1h-2zM282 411h3v1h-3zM287 411h1v1h-1zM316 411h1v1h-1zM403 411h1v1h-1zM513 411h1v1h-1zM534 411h1v1h-1zM51 412h2v1h-2zM61 412h2v1h-2zM279 412h3v1h-3zM288 412h1v1h-1zM315 412h1v1h-1zM404 412h1v1h-1zM512 412h1v1h-1zM535 412h2v1h-2zM50 413h1v1h-1zM63 413h2v1h-2zM277 413h2v1h-2zM288 413h1v1h-1zM314 413h1v1h-1zM405 413h1v1h-1zM511 413h1v1h-1zM537 413h1v1h-1zM48 414h2v1h-2zM65 414h1v1h-1zM276 414h1v1h-1zM289 414h1v1h-1zM313 414h1v1h-1zM406 414h1v1h-1zM510 414h1v1h-1zM538 414h1v1h-1zM47 415h1v1h-1zM66 415h1v1h-1zM276 415h1v1h-1zM290 415h1v1h-1zM310 415h3v1h-3zM407 415h1v1h-1zM509 415h1v1h-1zM539 415h2v1h-2zM46 416h1v1h-1zM67 416h1v1h-1zM275 416h1v1h-1zM291 416h1v1h-1zM306 416h4v1h-4zM407 416h1v1h-1zM508 416h1v1h-1zM541 416h1v1h-1zM45 417h1v1h-1zM68 417h2v1h-2zM275 417h1v1h-1zM292 417h1v1h-1zM302 417h4v1h-4zM408 417h1v1h-1zM508 417h1v1h-1zM542 417h1v1h-1zM45 418h1v1h-1zM70 418h1v1h-1zM274 418h1v1h-1zM292 418h1v1h-1zM299 418h3v1h-3zM409 418h1v1h-1zM507 418h1v1h-1zM543 418h1v1h-1zM44 419h1v1h-1zM71 419h1v1h-1zM273 419h1v1h-1zM293 419h1v1h-1zM296 419h3v1h-3zM410 419h1v1h-1zM506 419h1v1h-1zM544 419h1v1h-1zM43 420h1v1h-1zM72 420h1v1h-1zM273 420h1v1h-1zM294 420h2v1h-2zM411 420h2v1h-2zM506 420h1v1h-1zM545 420h1v1h-1zM42 421h1v1h-1zM73 421h1v1h-1zM272 421h1v1h-1zM413 421h1v1h-1zM505 421h1v1h-1zM546 421h2v1h-2zM41 422h1v1h-1zM74 422h1v1h-1zM272 422h1v1h-1zM414 422h1v1h-1zM505 422h1v1h-1zM548 422h1v1h-1zM40 423h1v1h-1zM75 423h1v1h-1zM271 423h1v1h-1zM415 423h2v1h-2zM504 423h1v1h-1zM549 423h1v1h-1zM40 424h1v1h-1zM76 424h1v1h-1zM270 424h1v1h-1zM417 424h1v1h-1zM504 424h1v1h-1zM550 424h1v1h-1zM39 425h1v1h-1zM77 425h2v1h-2zM270 425h1v1h-1zM418 425h1v1h-1zM503 425h1v1h-1zM551 425h1v1h-1zM38 426h1v1h-1zM79 426h1v1h-1zM269 426h1v1h-1zM419 426h1v1h-1zM503 426h1v1h-1zM37 427h1v1h-1zM80 427h1v1h-1zM269 427h1v1h-1zM420 427h2v1h-2zM502 427h1v1h-1zM36 428h1v1h-1zM81 428h1v1h-1zM268 428h1v1h-1zM422 428h1v1h-1zM502 428h1v1h-1zM36 429h1v1h-1zM82 429h1v1h-1zM267 429h1v1h-1zM423 429h1v1h-1zM501 429h1v1h-1zM35 430h1v1h-1zM83 430h2v1h-2zM267 430h1v1h-1zM424 430h2v1h-2zM501 430h1v1h-1zM34 431h1v1h-1zM85 431h1v1h-1zM266 431h1v1h-1zM426 431h1v1h-1zM500 431h1v1h-1zM33 432h1v1h-1zM86 432h2v1h-2zM265 432h1v1h-1zM427 432h5v1h-5zM500 432h1v1h-1zM32 433h1v1h-1zM88 433h1v1h-1zM265 433h1v1h-1zM432 433h5v1h-5zM499 433h1v1h-1zM31 434h1v1h-1zM89 434h2v1h-2zM264 434h1v1h-1zM437 434h1v1h-1zM499 434h1v1h-1zM31 435h1v1h-1zM91 435h5v1h-5zM263 435h1v1h-1zM437 435h1v1h-1zM498 435h1v1h-1zM30 436h1v1h-1zM96 436h7v1h-7zM262 436h1v1h-1zM438 436h1v1h-1zM498 436h1v1h-1zM29 437h1v1h-1zM103 437h4v1h-4zM262 437h1v1h-1zM439 437h1v1h-1zM497 437h1v1h-1zM28 438h1v1h-1zM107 438h7v1h-7zM261 438h1v1h-1zM440 438h1v1h-1zM496 438h1v1h-1zM27 439h1v1h-1zM114 439h5v1h-5zM260 439h1v1h-1zM440 439h1v1h-1zM496 439h1v1h-1zM26 440h1v1h-1zM119 440h1v1h-1zM260 440h1v1h-1zM441 440h1v1h-1zM495 440h1v1h-1zM25 441h1v1h-1zM120 441h1v1h-1zM259 441h1v1h-1zM442 441h1v1h-1zM494 441h1v1h-1zM24 442h1v1h-1zM120 442h1v1h-1zM258 442h1v1h-1zM443 442h1v1h-1zM493 442h1v1h-1zM24 443h1v1h-1zM121 443h1v1h-1zM257 443h1v1h-1zM443 443h1v1h-1zM471 443h3v1h-3zM492 443h1v1h-1zM23 444h1v1h-1zM122 444h1v1h-1zM256 444h1v1h-1zM444 444h1v1h-1zM469 444h2v1h-2zM474 444h4v1h-4zM491 444h1v1h-1zM22 445h1v1h-1zM123 445h1v1h-1zM255 445h1v1h-1zM445 445h1v1h-1zM468 445h1v1h-1zM478 445h5v1h-5zM491 445h1v1h-1zM21 446h1v1h-1zM124 446h1v1h-1zM254 446h1v1h-1zM446 446h1v1h-1zM466 446h2v1h-2zM483 446h4v1h-4zM490 446h1v1h-1zM20 447h1v1h-1zM124 447h1v1h-1zM254 447h1v1h-1zM447 447h1v1h-1zM465 447h1v1h-1zM487 447h3v1h-3zM19 448h1v1h-1zM125 448h1v1h-1zM253 448h1v1h-1zM448 448h1v1h-1zM463 448h2v1h-2zM18 449h1v1h-1zM126 449h1v1h-1zM252 449h1v1h-1zM449 449h1v1h-1zM462 449h1v1h-1zM17 450h1v1h-1zM127 450h2v1h-2zM251 450h1v1h-1zM449 450h1v1h-1zM460 450h2v1h-2zM15 451h2v1h-2zM129 451h1v1h-1zM238 451h13v1h-13zM450 451h1v1h-1zM458 451h2v1h-2zM14 452h1v1h-1zM130 452h2v1h-2zM229 452h9v1h-9zM451 452h1v1h-1zM456 452h2v1h-2zM13 453h1v1h-1zM132 453h1v1h-1zM223 453h6v1h-6zM452 453h1v1h-1zM454 453h2v1h-2zM12 454h1v1h-1zM133 454h2v1h-2zM221 454h2v1h-2zM453 454h1v1h-1zM135 455h1v1h-1zM219 455h2v1h-2zM136 456h2v1h-2zM217 456h2v1h-2zM138 457h2v1h-2zM215 457h2v1h-2zM140 458h2v1h-2zM214 458h1v1h-1zM142 459h2v1h-2zM213 459h1v1h-1zM144 460h5v1h-5zM212 460h1v1h-1zM149 461h5v1h-5zM210 461h2v1h-2zM154 462h2v1h-2zM209 462h1v1h-1zM156 463h1v1h-1zM208 463h1v1h-1zM157 464h2v1h-2zM207 464h1v1h-1zM159 465h1v1h-1zM202 465h5v1h-5zM160 466h2v1h-2zM193 466h9v1h-9zM162 467h31v1h-31z"/>
<path fill="#ff0000" d="M370 406h31v1h-31zM354 407h16v1h-16zM401 407h2v1h-2zM350 408h4v1h-4zM403 408h2v1h-2zM346 409h4v1h-4zM405 409h2v1h-2zM342 410h4v1h-4zM407 410h2v1h-2zM337 411h5v1h-5zM409 411h1v1h-1zM333 412h4v1h-4zM410 412h2v1h-2zM328 413h5v1h-5zM412 413h2v1h-2zM324 414h4v1h-4zM414 414h2v1h-2zM320 415h4v1h-4zM416 415h2v1h-2zM318 416h2v1h-2zM418 416h2v1h-2zM532 416h12v1h-12zM316 417h2v1h-2zM420 417h2v1h-2zM529 417h3v1h-3zM544 417h3v1h-3zM314 418h2v1h-2zM422 418h2v1h-2zM526 418h3v1h-3zM547 418h3v1h-3zM311 419h3v1h-3zM424 419h2v1h-2zM524 419h2v1h-2zM550 419h2v1h-2zM308 420h3v1h-3zM426 420h2v1h-2zM523 420h1v1h-1zM65 421h11v1h-11zM305 421h3v1h-3zM428 421h2v1h-2zM521 421h2v1h-2zM63 422h2v1h-2zM76 422h4v1h-4zM299 422h6v1h-6zM430 422h2v1h-2zM520 422h1v1h-1zM61 423h2v1h-2zM80 423h4v1h-4zM293 423h6v1h-6zM432 423h2v1h-2zM519 423h1v1h-1zM59 424h2v1h-2zM84 424h2v1h-2zM291 424h2v1h-2zM434 424h2v1h-2zM517 424h2v1h-2zM57 425h2v1h-2zM86 425h2v1h-2zM288 425h3v1h-3zM436 425h1v1h-1zM516 425h1v1h-1zM56 426h1v1h-1zM88 426h2v1h-2zM286 426h2v1h-2zM437 426h2v1h-2zM515 426h1v1h-1zM55 427h1v1h-1zM90 427h3v1h-3zM284 427h2v1h-2zM439 427h1v1h-1zM514 427h1v1h-1zM53 428h2v1h-2zM93 428h3v1h-3zM283 428h1v1h-1zM440 428h2v1h-2zM513 428h1v1h-1zM52 429h1v1h-1zM96 429h3v1h-3zM281 429h2v1h-2zM442 429h1v1h-1zM512 429h1v1h-1zM51 430h1v1h-1zM99 430h4v1h-4zM280 430h1v1h-1zM443 430h2v1h-2zM510 430h2v1h-2zM49 431h2v1h-2zM103 431h4v1h-4zM278 431h2v1h-2zM445 431h1v1h-1zM509 431h1v1h-1zM48 432h1v1h-1zM107 432h4v1h-4zM277 432h1v1h-1zM446 432h1v1h-1zM508 432h1v1h-1zM47 433h1v1h-1zM111 433h3v1h-3zM276 433h1v1h-1zM447 433h1v1h-1zM507 433h1v1h-1zM46 434h1v1h-1zM114 434h3v1h-3zM275 434h1v1h-1zM448 434h1v1h-1zM506 434h1v1h-1zM45 435h1v1h-1zM117 435h2v1h-2zM274 435h1v1h-1zM449 435h1v1h-1zM505 435h1v1h-1zM44 436h1v1h-1zM119 436h2v1h-2zM273 436h1v1h-1zM450 436h1v1h-1zM504 436h1v1h-1zM43 437h1v1h-1zM121 437h1v1h-1zM272 437h1v1h-1zM451 437h1v1h-1zM503 437h1v1h-1zM42 438h1v1h-1zM122 438h1v1h-1zM272 438h1v1h-1zM452 438h1v1h-1zM502 438h1v1h-1zM41 439h1v1h-1zM123 439h2v1h-2zM271 439h1v1h-1zM453 439h2v1h-2zM501 439h1v1h-1zM40 440h1v1h-1zM125 440h1v1h-1zM270 440h1v1h-1zM455 440h2v1h-2zM500 440h1v1h-1zM39 441h1v1h-1zM126 441h1v1h-1zM269 441h1v1h-1zM457 441h2v1h-2zM499 441h1v1h-1zM38 442h1v1h-1zM127 442h2v1h-2zM268 442h1v1h-1zM459 442h2v1h-2zM497 442h2v1h-2zM37 443h1v1h-1zM129 443h2v1h-2zM267 443h1v1h-1zM461 443h22v1h-22zM494 443h3v1h-3zM36 444h1v1h-1zM131 444h2v1h-2zM265 444h2v1h-2zM483 444h4v1h-4zM491 444h3v1h-3zM35 445h1v1h-1zM133 445h2v1h-2zM264 445h1v1h-1zM487 445h4v1h-4zM34 446h1v1h-1zM135 446h2v1h-2zM263 446h1v1h-1zM33 447h1v1h-1zM137 447h2v1h-2zM261 447h2v1h-2zM32 448h1v1h-1zM139 448h2v1h-2zM260 448h1v1h-1zM31 449h1v1h-1zM141 449h2v1h-2zM259 449h1v1h-1zM30 450h1v1h-1zM143 450h3v1h-3zM257 450h2v1h-2zM29 451h1v1h-1zM146 451h2v1h-2zM255 451h2v1h-2zM27 452h2v1h-2zM148 452h2v1h-2zM253 452h2v1h-2zM26 453h1v1h-1zM150 453h2v1h-2zM251 453h2v1h-2zM24 454h2v1h-2zM152 454h3v1h-3zM246 454h5v1h-5zM23 455h1v1h-1zM155 455h2v1h-2zM240 455h6v1h-6zM21 456h2v1h-2zM157 456h2v1h-2zM236 456h4v1h-4zM20 457h1v1h-1zM159 457h2v1h-2zM231 457h5v1h-5zM18 458h2v1h-2zM161 458h3v1h-3zM227 458h4v1h-4zM16 459h2v1h-2zM164 459h3v1h-3zM223 459h4v1h-4zM14 460h2v1h-2zM167 460h3v1h-3zM220 460h3v1h-3zM12 461h2v1h-2zM170 461h4v1h-4zM217 461h3v1h-3zM174 462h4v1h-4zM214 462h3v1h-3zM178 463h4v1h-4zM211 463h3v1h-3zM182 464h4v1h-4zM208 464h3v1h-3zM186 465h22v1h-22z"/>
<rect x="10" y="520" width="2" height="9" fill="#ffe4c0"/>
<rect x="19" y="520" width="2" height="7" fill="#ffe4c0"/>
<rect x="28" y="520" width="2" height="3" fill="#ffe4c0"/>
<rect x="37" y="519" width="2" height="2" fill="#ffe4c0"/>
<rect x="45" y="518" width="2" height="3" fill="#ffe4c0"/>
<rect x="54" y="515" width="2" height="6" fill="#ffe4c0"/>
<rect x="63" y="516" width="2" height="5" fill="#ffe4c0"/>
<rect x="72" y="517" width="2" height="4" fill="#ffe4c0"/>
<rect x="81" y="517" width="2" height="4" fill="#ffe4c0"/>
<rect x="90" y="518" width="2" height="3" fill="#ffe4c0"/>
<rect x="99" y="519" width="2" height="2" fill="#ffe4c0"/>
<rect x="107" y="518" width="2" height="3" fill="#ffe4c0"/>
<rect x="116" y="518" width="2" height="3" fill="#ffe4c0"/>
<rect x="125" y="519" width="2" height="2" fill="#ffe4c0"/>
<rect x="134" y="518" width="2" height="3" fill="#ffe4c0"/>
<rect x="143" y="519" width="2" height="2" fill="#ffe4c0"/>
<rect x="152" y="520" width="2" height="3" fill="#ffe4c0"/>
<rect x="161" y="520" width="2" height="6" fill="#ffe4c0"/>
<rect x="169" y="520" width="2" height="10" fill="#ffe4c0"/>
<rect x="178" y="520" width="2" height="12" fill="#ffe4c0"/>
<rect x="187" y="520" width="2" height="13" fill="#ffe4c0"/>
<rect x="196" y="520" width="2" height="12" fill="#ffe4c0"/>
<rect x="205" y="520" width="2" height="11" fill="#ffe4c0"/>
<rect x="214" y="520" width="2" height="8" fill="#ffe4c0"/>
<rect x="222" y="520" width="2" height="5" fill="#ffe4c0"/>
<rect x="231" y="520" width="2" height="3" fill="#ffe4c0"/>
<rect x="241" y="520" width="1" height="1" fill="#ffe4c0"/>
<rect x="249" y="518" width="2" height="3" fill="#ffe4c0"/>
<rect x="258" y="515" width="2" height="6" fill="#ffe4c0"/>
<rect x="267" y="512" width="2" height="9" fill="#ffe4c0"/>
<rect x="276" y="511" width="2" height="10" fill="#ffe4c0"/>
<rect x="284" y="511" width="2" height="10" fill="#ffe4c0"/>
<rect x="293" y="512" width="2" height="9" fill="#ffe4c0"/>
<rect x="302" y="511" width="2" height="10" fill="#ffe4c0"/>
<rect x="311" y="511" width="2" height="10" fill="#ffe4c0"/>
<rect x="320" y="511" width="2" height="10" fill="#ffe4c0"/>
<rect x="329" y="511" width="2" height="10" fill="#ffe4c0"/>
<rect x="338" y="511" width="2" height="10" fill="#ffe4c0"/>
<rect x="346" y="512" width="2" height="9" fill="#ffe4c0"/>
<rect x="355" y="511" width="2" height="10" fill="#ffe4c0"/>
<rect x="364" y="512" width="2" height="9" fill="#ffe4c0"/>
<rect x="373" y="512" width="2" height="9" fill="#ffe4c0"/>
<rect x="382" y="511" width="2" height="10" fill="#ffe4c0"/>
<rect x="391" y="511" width="2" height="10" fill="#ffe4c0"/>
<rect x="399" y="511" width="2" height="10" fill="#ffe4c0"/>
<rect x="408" y="514" width="2" height="7" fill="#ffe4c0"/>
<rect x="417" y="515" width="2" height="6" fill="#ffe4c0"/>
<rect x="426" y="516" width="2" height="5" fill="#ffe4c0"/>
<rect x="435" y="516" width="2" height="5" fill="#ffe4c0"/>
<rect x="445" y="520" width="1" height="1" fill="#ffe4c0"/>
<rect x="453" y="520" width="2" height="2" fill="#ffe4c0"/>
<rect x="462" y="520" width="1" height="1" fill="#ffe4c0"/>
<rect x="470" y="520" width="2" height="2" fill="#ffe4c0"/>
<rect x="479" y="520" width="2" height="3" fill="#ffe4c0"/>
<rect x="488" y="520" width="2" height="2" fill="#ffe4c0"/>
<rect x="497" y="518" width="2" height="3" fill="#ffe4c0"/>
<rect x="506" y="518" width="2" height="3" fill="#ffe4c0"/>
<rect x="514" y="518" width="2" height="3" fill="#ffe4c0"/>
<rect x="523" y="517" width="2" height="4" fill="#ffe4c0"/>
<rect x="532" y="518" width="2" height="3" fill="#ffe4c0"/>
<rect x="541" y="518" width="2" height="3" fill="#ffe4c0"/>
<rect x="550" y="518" width="2" height="3" fill="#ffe4c0"/>
<path fill="#deb887" d="M399 512h4v1h-4zM522 512h16v1h-16zM395 513h4v1h-4zM403 513h4v1h-4zM423 513h9v1h-9zM518 513h4v1h-4zM538 513h14v1h-14zM390 514h5v1h-5zM407 514h16v1h-16zM432 514h6v1h-6zM513 514h5v1h-5zM386 515h4v1h-4zM438 515h3v1h-3zM509 515h4v1h-4zM382 516h4v1h-4zM441 516h3v1h-3zM497 516h12v1h-12zM379 517h3v1h-3zM444 517h6v1h-6zM495 517h2v1h-2zM376 518h3v1h-3zM450 518h24v1h-24zM493 518h2v1h-2zM370 519h6v1h-6zM474 519h4v1h-4zM491 519h2v1h-2zM363 520h7v1h-7zM478 520h13v1h-13zM359 521h4v1h-4zM354 522h5v1h-5zM350 523h4v1h-4zM346 524h4v1h-4zM342 525h4v1h-4zM338 526h4v1h-4zM335 527h3v1h-3zM332 528h3v1h-3zM326 529h6v1h-6zM319 530h7v1h-7zM315 531h4v1h-4zM311 532h4v1h-4zM308 533h3v1h-3zM55 534h32v1h-32zM114 534h9v1h-9zM131 534h9v1h-9zM305 534h3v1h-3zM53 535h2v1h-2zM87 535h27v1h-27zM123 535h8v1h-8zM140 535h6v1h-6zM302 535h3v1h-3zM51 536h2v1h-2zM146 536h3v1h-3zM299 536h3v1h-3zM49 537h2v1h-2zM149 537h3v1h-3zM296 537h3v1h-3zM45 538h4v1h-4zM152 538h2v1h-2zM284 538h12v1h-12zM41 539h4v1h-4zM154 539h2v1h-2zM280 539h4v1h-4zM37 540h4v1h-4zM156 540h2v1h-2zM276 540h4v1h-4zM34 541h3v1h-3zM158 541h2v1h-2zM274 541h2v1h-2zM31 542h3v1h-3zM160 542h2v1h-2zM272 542h2v1h-2zM28 543h3v1h-3zM162 543h1v1h-1zM270 543h2v1h-2zM26 544h2v1h-2zM163 544h1v1h-1zM267 544h3v1h-3zM24 545h2v1h-2zM164 545h2v1h-2zM264 545h3v1h-3zM22 546h2v1h-2zM166 546h1v1h-1zM261 546h3v1h-3zM12 547h10v1h-10zM167 547h1v1h-1zM258 547h3v1h-3zM168 548h2v1h-2zM256 548h2v1h-2zM170 549h1v1h-1zM254 549h2v1h-2zM171 550h2v1h-2zM252 550h2v1h-2zM173 551h2v1h-2zM249 551h3v1h-3zM175 552h2v1h-2zM247 552h2v1h-2zM177 553h2v1h-2zM245 553h2v1h-2zM179 554h2v1h-2zM243 554h2v1h-2zM181 555h2v1h-2zM240 555h3v1h-3zM183 556h2v1h-2zM236 556h4v1h-4zM185 557h2v1h-2zM229 557h7v1h-7zM187 558h3v1h-3zM223 558h6v1h-6zM190 559h3v1h-3zM220 559h3v1h-3zM193 560h3v1h-3zM217 560h3v1h-3zM196 561h6v1h-6zM211 561h6v1h-6zM202 562h9v1h-9z"/>
<path fill="#00eeee" d="M547 514h5v1h-5zM529 515h18v1h-18zM432 516h18v1h-18zM520 516h9v1h-9zM423 517h9v1h-9zM450 517h26v1h-26zM503 517h17v1h-17zM414 518h9v1h-9zM476 518h27v1h-27zM405 519h9v1h-9zM399 520h6v1h-6zM395 521h4v1h-4zM390 522h5v1h-5zM386 523h4v1h-4zM381 524h5v1h-5zM377 525h4v1h-4zM372 526h5v1h-5zM368 527h4v1h-4zM363 528h5v1h-5zM359 529h4v1h-4zM354 530h5v1h-5zM350 531h4v1h-4zM346 532h4v1h-4zM342 533h4v1h-4zM337 534h5v1h-5zM114 535h42v1h-42zM333 535h4v1h-4zM78 536h36v1h-36zM156 536h4v1h-4zM328 536h5v1h-5zM70 537h8v1h-8zM160 537h4v1h-4zM324 537h4v1h-4zM12 538h3v1h-3zM61 538h9v1h-9zM164 538h3v1h-3zM319 538h5v1h-5zM15 539h4v1h-4zM52 539h9v1h-9zM167 539h3v1h-3zM315 539h4v1h-4zM19 540h6v1h-6zM43 540h9v1h-9zM170 540h4v1h-4zM310 540h5v1h-5zM25 541h18v1h-18zM174 541h4v1h-4zM306 541h4v1h-4zM178 542h3v1h-3zM302 542h4v1h-4zM181 543h3v1h-3zM299 543h3v1h-3zM184 544h3v1h-3zM296 544h3v1h-3zM187 545h3v1h-3zM291 545h5v1h-5zM190 546h3v1h-3zM284 546h7v1h-7zM193 547h3v1h-3zM280 547h4v1h-4zM196 548h3v1h-3zM275 548h5v1h-5zM199 549h3v1h-3zM271 549h4v1h-4zM202 550h3v1h-3zM266 550h5v1h-5zM205 551h3v1h-3zM262 551h4v1h-4zM208 552h3v1h-3zM257 552h5v1h-5zM211 553h3v1h-3zM253 553h4v1h-4zM214 554h15v1h-15zM246 554h7v1h-7zM229 555h17v1h-17z"/>
<path fill="#c4b070" d="M383 601h1v1h-1zM382 602h1v1h-1zM384 602h1v1h-1zM382 603h1v1h-1zM385 603h1v1h-1zM381 604h1v1h-1zM386 604h1v1h-1zM380 605h1v1h-1zM387 605h1v1h-1zM400 605h1v1h-1zM380 606h1v1h-1zM388 606h1v1h-1zM398 606h3v1h-3zM524 606h1v1h-1zM379 607h1v1h-1zM389 607h1v1h-1zM397 607h1v1h-1zM401 607h1v1h-1zM522 607h2v1h-2zM525 607h1v1h-1zM378 608h1v1h-1zM390 608h1v1h-1zM395 608h2v1h-2zM401 608h1v1h-1zM520 608h2v1h-2zM525 608h1v1h-1zM377 609h1v1h-1zM391 609h1v1h-1zM393 609h2v1h-2zM402 609h1v1h-1zM518 609h2v1h-2zM526 609h1v1h-1zM377 610h1v1h-1zM392 610h1v1h-1zM402 610h1v1h-1zM516 610h2v1h-2zM527 610h1v1h-1zM376 611h1v1h-1zM402 611h1v1h-1zM498 611h3v1h-3zM513 611h3v1h-3zM527 611h1v1h-1zM356 612h2v1h-2zM375 612h1v1h-1zM403 612h1v1h-1zM497 612h1v1h-1zM501 612h4v1h-4zM509 612h4v1h-4zM528 612h1v1h-1zM355 613h1v1h-1zM358 613h2v1h-2zM375 613h1v1h-1zM403 613h1v1h-1zM497 613h1v1h-1zM505 613h4v1h-4zM529 613h1v1h-1zM354 614h1v1h-1zM360 614h2v1h-2zM372 614h3v1h-3zM404 614h1v1h-1zM427 614h1v1h-1zM496 614h1v1h-1zM530 614h1v1h-1zM353 615h1v1h-1zM362 615h2v1h-2zM368 615h4v1h-4zM404 615h1v1h-1zM425 615h2v1h-2zM428 615h1v1h-1zM495 615h1v1h-1zM530 615h1v1h-1zM352 616h1v1h-1zM364 616h4v1h-4zM404 616h1v1h-1zM424 616h1v1h-1zM429 616h1v1h-1zM495 616h1v1h-1zM531 616h1v1h-1zM351 617h1v1h-1zM405 617h1v1h-1zM422 617h2v1h-2zM430 617h1v1h-1zM494 617h1v1h-1zM532 617h1v1h-1zM351 618h1v1h-1zM405 618h1v1h-1zM421 618h1v1h-1zM431 618h1v1h-1zM493 618h1v1h-1zM532 618h1v1h-1zM350 619h1v1h-1zM406 619h1v1h-1zM419 619h2v1h-2zM431 619h1v1h-1zM492 619h1v1h-1zM533 619h12v1h-12zM339 620h3v1h-3zM349 620h1v1h-1zM406 620h1v1h-1zM418 620h1v1h-1zM432 620h1v1h-1zM492 620h1v1h-1zM545 620h4v1h-4zM56 621h1v1h-1zM337 621h2v1h-2zM342 621h4v1h-4zM348 621h1v1h-1zM407 621h1v1h-1zM417 621h1v1h-1zM433 621h1v1h-1zM462 621h1v1h-1zM491 621h1v1h-1zM549 621h3v1h-3zM55 622h1v1h-1zM57 622h1v1h-1zM336 622h1v1h-1zM346 622h2v1h-2zM407 622h1v1h-1zM415 622h2v1h-2zM434 622h1v1h-1zM461 622h1v1h-1zM463 622h2v1h-2zM490 622h1v1h-1zM54 623h1v1h-1zM57 623h1v1h-1zM268 623h2v1h-2zM303 623h3v1h-3zM334 623h2v1h-2zM407 623h1v1h-1zM414 623h1v1h-1zM435 623h1v1h-1zM460 623h1v1h-1zM465 623h2v1h-2zM490 623h1v1h-1zM53 624h1v1h-1zM58 624h1v1h-1zM266 624h2v1h-2zM270 624h2v1h-2zM302 624h1v1h-1zM306 624h4v1h-4zM317 624h7v1h-7zM333 624h1v1h-1zM408 624h1v1h-1zM413 624h1v1h-1zM436 624h1v1h-1zM459 624h1v1h-1zM467 624h2v1h-2zM489 624h1v1h-1zM52 625h1v1h-1zM59 625h1v1h-1zM265 625h1v1h-1zM272 625h2v1h-2zM302 625h1v1h-1zM310 625h7v1h-7zM324 625h4v1h-4zM331 625h2v1h-2zM408 625h1v1h-1zM411 625h2v1h-2zM437 625h1v1h-1zM457 625h2v1h-2zM469 625h2v1h-2zM488 625h1v1h-1zM51 626h1v1h-1zM59 626h1v1h-1zM263 626h2v1h-2zM274 626h2v1h-2zM301 626h1v1h-1zM328 626h3v1h-3zM409 626h2v1h-2zM437 626h1v1h-1zM456 626h1v1h-1zM471 626h1v1h-1zM487 626h1v1h-1zM50 627h1v1h-1zM60 627h1v1h-1zM262 627h1v1h-1zM276 627h2v1h-2zM301 627h1v1h-1zM409 627h1v1h-1zM438 627h1v1h-1zM455 627h1v1h-1zM472 627h1v1h-1zM486 627h1v1h-1zM49 628h1v1h-1zM61 628h1v1h-1zM260 628h2v1h-2zM278 628h2v1h-2zM300 628h1v1h-1zM439 628h1v1h-1zM454 628h1v1h-1zM473 628h2v1h-2zM485 628h1v1h-1zM29 629h14v1h-14zM48 629h1v1h-1zM62 629h1v1h-1zM259 629h1v1h-1zM280 629h2v1h-2zM300 629h1v1h-1zM439 629h1v1h-1zM453 629h1v1h-1zM475 629h1v1h-1zM484 629h1v1h-1zM29 630h1v1h-1zM43 630h5v1h-5zM62 630h1v1h-1zM258 630h1v1h-1zM282 630h2v1h-2zM299 630h1v1h-1zM440 630h1v1h-1zM452 630h1v1h-1zM476 630h1v1h-1zM483 630h1v1h-1zM28 631h1v1h-1zM63 631h1v1h-1zM258 631h1v1h-1zM284 631h2v1h-2zM299 631h1v1h-1zM440 631h1v1h-1zM451 631h1v1h-1zM477 631h2v1h-2zM482 631h1v1h-1zM28 632h1v1h-1zM64 632h1v1h-1zM135 632h1v1h-1zM257 632h1v1h-1zM286 632h1v1h-1zM298 632h1v1h-1zM441 632h1v1h-1zM450 632h1v1h-1zM479 632h1v1h-1zM481 632h1v1h-1zM27 633h1v1h-1zM64 633h1v1h-1zM134 633h1v1h-1zM136 633h1v1h-1zM257 633h1v1h-1zM287 633h1v1h-1zM298 633h1v1h-1zM442 633h1v1h-1zM449 633h1v1h-1zM480 633h1v1h-1zM27 634h1v1h-1zM65 634h1v1h-1zM133 634h1v1h-1zM136 634h1v1h-1zM256 634h1v1h-1zM288 634h1v1h-1zM297 634h1v1h-1zM442 634h1v1h-1zM449 634h1v1h-1zM26 635h1v1h-1zM66 635h2v1h-2zM82 635h1v1h-1zM133 635h1v1h-1zM137 635h1v1h-1zM256 635h1v1h-1zM289 635h1v1h-1zM297 635h1v1h-1zM443 635h1v1h-1zM448 635h1v1h-1zM26 636h1v1h-1zM68 636h1v1h-1zM80 636h2v1h-2zM83 636h1v1h-1zM132 636h1v1h-1zM138 636h1v1h-1zM255 636h1v1h-1zM290 636h1v1h-1zM296 636h1v1h-1zM444 636h1v1h-1zM447 636h1v1h-1zM25 637h1v1h-1zM69 637h1v1h-1zM78 637h2v1h-2zM84 637h1v1h-1zM105 637h9v1h-9zM131 637h1v1h-1zM138 637h1v1h-1zM255 637h1v1h-1zM291 637h1v1h-1zM296 637h1v1h-1zM444 637h1v1h-1zM446 637h1v1h-1zM25 638h1v1h-1zM70 638h2v1h-2zM76 638h2v1h-2zM85 638h1v1h-1zM100 638h5v1h-5zM114 638h5v1h-5zM130 638h1v1h-1zM139 638h1v1h-1zM254 638h1v1h-1zM292 638h1v1h-1zM295 638h1v1h-1zM445 638h1v1h-1zM24 639h1v1h-1zM72 639h1v1h-1zM74 639h2v1h-2zM86 639h1v1h-1zM99 639h1v1h-1zM119 639h2v1h-2zM130 639h1v1h-1zM140 639h1v1h-1zM254 639h1v1h-1zM293 639h1v1h-1zM295 639h1v1h-1zM24 640h1v1h-1zM73 640h1v1h-1zM86 640h1v1h-1zM97 640h2v1h-2zM121 640h1v1h-1zM129 640h1v1h-1zM141 640h1v1h-1zM253 640h1v1h-1zM294 640h1v1h-1zM12 641h1v1h-1zM23 641h1v1h-1zM87 641h1v1h-1zM96 641h1v1h-1zM122 641h1v1h-1zM128 641h1v1h-1zM141 641h1v1h-1zM253 641h1v1h-1zM13 642h1v1h-1zM23 642h1v1h-1zM88 642h1v1h-1zM95 642h1v1h-1zM123 642h2v1h-2zM127 642h1v1h-1zM142 642h1v1h-1zM252 642h1v1h-1zM14 643h1v1h-1zM22 643h1v1h-1zM89 643h1v1h-1zM93 643h2v1h-2zM125 643h1v1h-1zM127 643h1v1h-1zM143 643h1v1h-1zM252 643h1v1h-1zM15 644h2v1h-2zM22 644h1v1h-1zM90 644h1v1h-1zM92 644h1v1h-1zM126 644h1v1h-1zM143 644h1v1h-1zM241 644h3v1h-3zM251 644h1v1h-1zM17 645h1v1h-1zM21 645h1v1h-1zM91 645h1v1h-1zM144 645h1v1h-1zM240 645h1v1h-1zM244 645h4v1h-4zM251 645h1v1h-1zM18 646h1v1h-1zM21 646h1v1h-1zM145 646h1v1h-1zM240 646h1v1h-1zM248 646h3v1h-3zM19 647h2v1h-2zM146 647h1v1h-1zM239 647h1v1h-1zM20 648h1v1h-1zM147 648h1v1h-1zM224 648h1v1h-1zM238 648h1v1h-1zM148 649h1v1h-1zM222 649h2v1h-2zM225 649h1v1h-1zM238 649h1v1h-1zM149 650h1v1h-1zM220 650h2v1h-2zM226 650h1v1h-1zM237 650h1v1h-1zM150 651h1v1h-1zM218 651h2v1h-2zM227 651h1v1h-1zM236 651h1v1h-1zM151 652h1v1h-1zM216 652h2v1h-2zM228 652h2v1h-2zM236 652h1v1h-1zM152 653h1v1h-1zM215 653h1v1h-1zM230 653h1v1h-1zM235 653h1v1h-1zM153 654h1v1h-1zM214 654h1v1h-1zM231 654h1v1h-1zM234 654h1v1h-1zM154 655h1v1h-1zM214 655h1v1h-1zM232 655h1v1h-1zM234 655h1v1h-1zM154 656h1v1h-1zM213 656h1v1h-1zM233 656h1v1h-1zM155 657h1v1h-1zM213 657h1v1h-1zM156 658h1v1h-1zM212 658h1v1h-1zM157 659h1v1h-1zM212 659h1v1h-1zM157 660h1v1h-1zM211 660h1v1h-1zM158 661h1v1h-1zM211 661h1v1h-1zM159 662h1v1h-1zM210 662h1v1h-1zM160 663h1v1h-1zM210 663h1v1h-1zM160 664h1v1h-1zM209 664h1v1h-1zM161 665h1v1h-1zM209 665h1v1h-1zM162 666h1v1h-1zM208 666h1v1h-1zM163 667h1v1h-1zM208 667h1v1h-1zM164 668h2v1h-2zM207 668h1v1h-1zM166 669h1v1h-1zM207 669h1v1h-1zM167 670h1v1h-1zM206 670h1v1h-1zM168 671h2v1h-2zM197 671h10v1h-10zM170 672h1v1h-1zM195 672h2v1h-2zM171 673h5v1h-5zM194 673h1v1h-1zM176 674h5v1h-5zM192 674h2v1h-2zM181 675h3v1h-3zM191 675h1v1h-1zM184 676h3v1h-3zM189 676h2v1h-2zM187 677h2v1h-2z"/>
</svg>
<div class="lab" style="top:15px">32.80</div>
<div class="lab" style="top:34px">32.70</div>
<div class="lab" style="top:53px">32.60</div>
<div class="lab" style="top:72px">32.50</div>
<div class="lab" style="top:91px">32.40</div>
<div class="lab" style="top:110px">32.30</div>
<div class="lab" style="top:129px">32.20</div>
<div class="lab" style="top:148px">32.<i>1</i>0</div>
<div class="lab" style="top:167px">32.00</div>
<div class="lab" style="top:186px">3<i>1</i>.90</div>
<div class="lab" style="top:205px">3<i>1</i>.80</div>
<div class="lab" style="top:224px">3<i>1</i>.70</div>
<div class="lab" style="top:243px">3<i>1</i>.60</div>
<div class="lab" style="top:262px">3<i>1</i>.50</div>
<div class="lab" style="top:281px">3<i>1</i>.40</div>
<div class="lab" style="top:300px">3<i>1</i>.30</div>
<div class="lab" style="top:319px">3<i>1</i>.20</div>
<div class="lab" style="top:338px">3<i>1</i>.<i>1</i>0</div>
<div class="lab" style="top:357px">3<i>1</i></div>
<div class="lab" style="top:388px"><i>1</i><i>1</i>0</div>
<div class="lab" style="top:408px">80</div>
<div class="lab" style="top:427px">50</div>
<div class="lab" style="top:446px">20</div>
<div class="lab" style="top:466px"><b>-</b><i>1</i>0</div>
<div class="lab" style="top:505px">0.05</div>
<div class="lab" style="top:526px"><b>-</b>0.<i>1</i></div>
<div class="lab" style="top:546px"><b>-</b>0.25</div>
<div class="lab" style="top:567px"><b>-</b>0.4</div>
<div class="lab" style="top:589px">64</div>
<div class="lab" style="top:605px">56</div>
<div class="lab" style="top:622px">48</div>
<div class="lab" style="top:638px">40</div>
<div class="lab" style="top:655px">32</div>
<div class="lab" style="top:671px">24</div>
<div class="cur"><span style="margin-left:0.6px">31.990</span></div>
<div class="ttl" id="t1" style="left:209px;top:4px">Thai Baht/Australia Dollar [day]</div>
<div class="ttl" id="t2" style="left:201.5px;top:383px;transform:scaleX(0.8715)">Slow Stochastics Oscillator(14,3,3)</div>
<div class="ttl" id="t3" style="left:156.5px;top:486px;transform:scaleX(0.9)">Moving Average Convergence / Divergence(26,12,9)</div>
<div class="ttl" id="t4" style="left:184.5px;top:588px;transform:scaleX(0.875)">Relative Strength Index(CLOSE,14,30,70)</div>
</body></html>
